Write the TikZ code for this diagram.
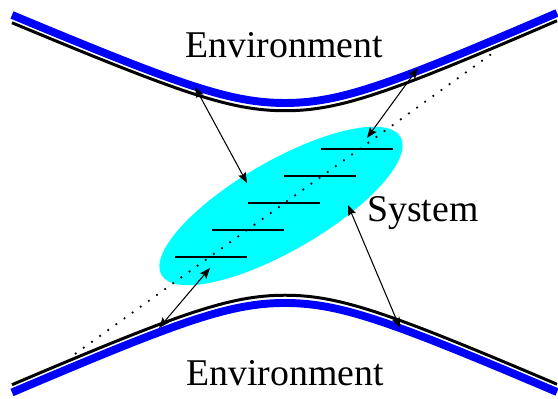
\documentclass[tikz,border=0pt]{standalone}
\usepackage{fontspec}
\setmainfont{Liberation Serif}
\usetikzlibrary{arrows.meta,shapes.geometric}
\definecolor{syscyan}{RGB}{0,255,255}
\definecolor{wallblue}{RGB}{0,0,255}

\begin{document}
\begin{tikzpicture}[>={Stealth[length=6pt,width=4.6pt,inset=1pt]},
  font=\fontsize{21.5}{24}\selectfont,
  wall/.style={wallblue,line width=4.5pt},
  rim/.style={black,line width=1.7pt},
  level/.style={line width=1.4pt},
  guide/.style={line width=1pt,dash pattern=on 1pt off 4.7pt},
  coupling/.style={<->,line width=0.6pt}]
\useasboundingbox (0,0) rectangle (11.16,7.98);
\draw[wall] (0.24,7.68) .. controls (3.6,6.28) and (4.6,5.92) .. (5.7,5.92) .. controls (6.8,5.92) and (7.8,6.28) .. (11.14,7.72);
\draw[rim,yshift=-0.155cm] (0.24,7.68) .. controls (3.6,6.28) and (4.6,5.92) .. (5.7,5.92) .. controls (6.8,5.92) and (7.8,6.28) .. (11.14,7.72);
\draw[wall] (0.24,0.13) .. controls (3.6,1.56) and (4.6,1.92) .. (5.7,1.92) .. controls (6.8,1.92) and (7.8,1.56) .. (11.14,0.14);
\draw[rim,yshift=0.155cm] (0.24,0.13) .. controls (3.6,1.56) and (4.6,1.92) .. (5.7,1.92) .. controls (6.8,1.92) and (7.8,1.56) .. (11.14,0.14);
\node[anchor=base,inner sep=0] (envtop) at (5.68,6.82) {Environment};
\node[anchor=base,inner sep=0] (envbot) at (5.7,0.26) {Environment};
\node[ellipse,fill=syscyan,inner sep=0,minimum width=5.52cm,minimum height=1.8cm,rotate=30] (system) at (5.62,3.86) {};
\node[anchor=base west,inner sep=0] (syslabel) at (7.34,3.54) {System};
\coordinate (guideS) at (1.5,0.9);
\coordinate (guideN) at (9.94,6.98);
\draw[guide] (guideS) -- (guideN);
\foreach \i in {0,...,4}
  \draw[level] ({3.5+0.73*\i},{2.84+0.54*\i}) -- ++(1.44,0);
\coordinate (wallNW) at (3.9,6.24);
\coordinate (sysNW) at (4.94,4.32);
\coordinate (wallNE) at (8.36,6.62);
\coordinate (sysNE) at (7.34,5.22);
\coordinate (wallSW) at (3.18,1.42);
\coordinate (sysSW) at (4.2,2.62);
\coordinate (wallSE) at (8.0,1.42);
\coordinate (sysSE) at (6.96,3.88);
\draw[coupling] (wallNW) -- (sysNW);
\draw[coupling] (wallNE) -- (sysNE);
\draw[coupling] (wallSW) -- (sysSW);
\draw[coupling] (wallSE) -- (sysSE);
\end{tikzpicture}
\end{document}
